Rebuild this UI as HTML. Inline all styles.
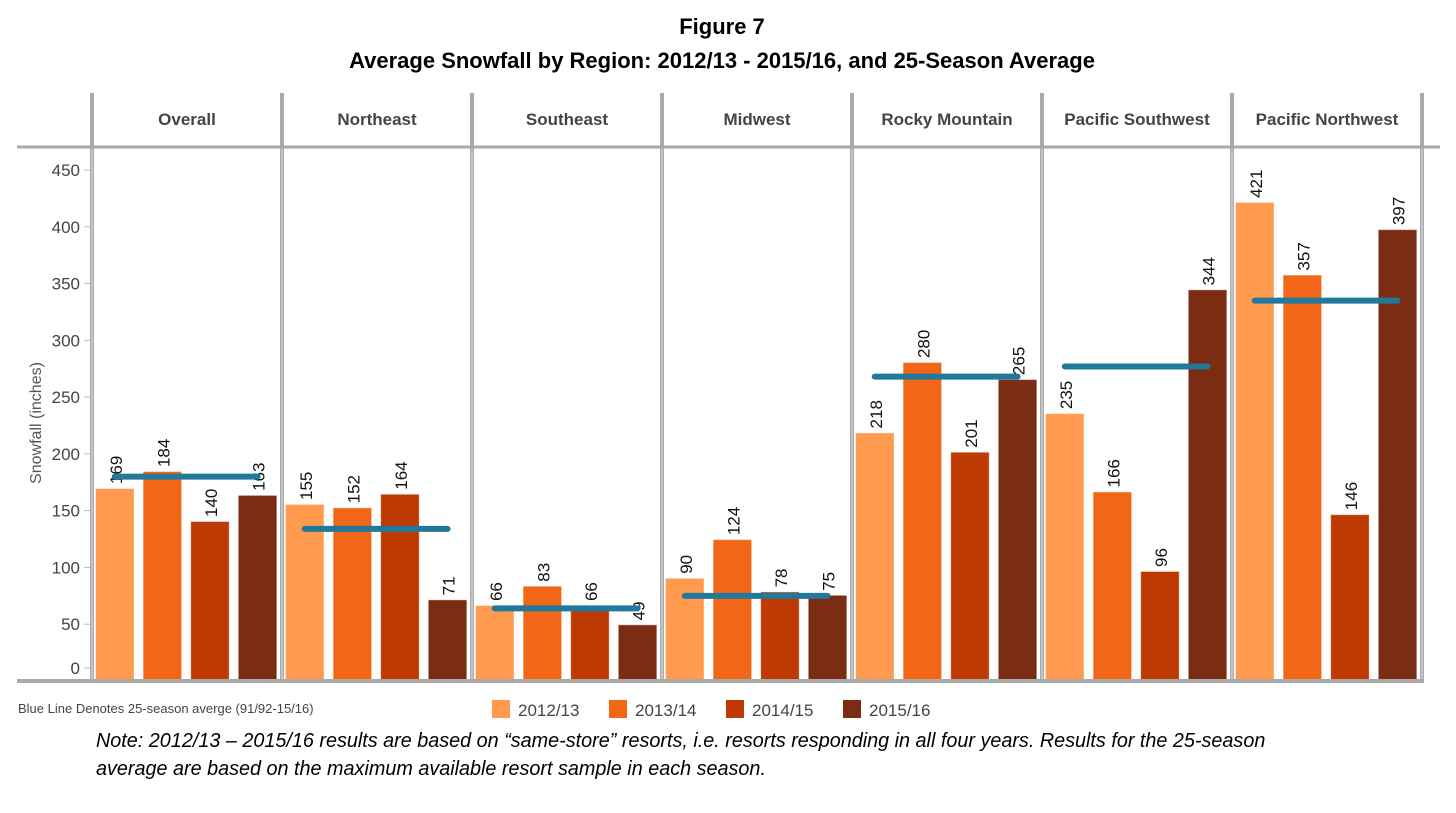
<!DOCTYPE html>
<html><head><meta charset="utf-8">
<style>
body{margin:0;background:#fff;width:1456px;height:813px;overflow:hidden;font-family:"Liberation Sans",sans-serif;}
svg{position:absolute;left:0;top:0}
</style></head>
<body>
<svg id="chart" width="1456" height="813">
<text x="722" y="34" text-anchor="middle" font-weight="bold" font-size="22">Figure 7</text>
<text x="722" y="68" text-anchor="middle" font-weight="bold" font-size="22">Average Snowfall by Region:  2012/13 - 2015/16, and 25-Season Average</text>
<text transform="translate(41,423) rotate(-90)" text-anchor="middle" font-size="16" fill="#555">Snowfall (inches)</text>
<text x="18" y="713" font-size="13" fill="#444">Blue Line Denotes 25-season averge (91/92-15/16)</text>
<g font-style="italic" font-size="20">
<text x="96" y="747" transform="translate(96,0) scale(0.99,1) translate(-96,0)">Note:  2012/13 – 2015/16 results are based on “same-store” resorts, i.e. resorts responding in all four years.  Results for the 25-season</text>
<text x="96" y="775" transform="translate(96,0) scale(0.99,1) translate(-96,0)">average are based on the maximum available resort sample in each season.</text>
</g>
<g id="g"></g>
</svg>
<script>
const regions=["Overall","Northeast","Southeast","Midwest","Rocky Mountain","Pacific Southwest","Pacific Northwest"];
const seasons=["2012/13","2013/14","2014/15","2015/16"];
const s2012=[169,155,66,90,218,235,421];
const s2013=[184,152,83,124,280,166,357];
const s2014=[140,164,66,78,201,96,146];
const s2015=[163,71,49,75,265,344,397];
const avg25=[180,134,64,75,268,277,335];
const yTicks=[0,50,100,150,200,250,300,350,400,450];
const colors=["#FF9A4F","#F26617","#BD3A03","#7B2D13"];
const series=[s2012,s2013,s2014,s2015];

const NS="http://www.w3.org/2000/svg";
const g=document.getElementById('g');
function el(t,a,p){const e=document.createElementNS(NS,t);for(const k in a)e.setAttribute(k,a[k]);(p||g).appendChild(e);return e;}
const x0=92,pw=190,yBase=681,k=1.1356;
function y(v){return yBase-v*k;}
function bx(r,i){return x0+r*pw+4+i*47.6;}
yTicks.forEach(t=>{
 const ty=t===0?668:y(t);
 const tx=el('text',{x:80,y:ty+6,'text-anchor':'end','font-size':17,fill:'#444'});
 tx.textContent=t;
 
 
 el('line',{x1:84,x2:90,y1:ty,y2:ty,stroke:'#bbb'});
});
regions.forEach((r,ri)=>{
 const h=el('text',{x:x0+ri*pw+pw/2,y:125,'text-anchor':'middle','font-size':17,'font-weight':'bold',fill:'#444'});
 h.textContent=r;
 
 
 series.forEach((s,si)=>{
  const v=s[ri];const x=bx(ri,si);
  const b=el('rect',{x:x,y:y(v),width:37.5,height:v*k,fill:colors[si],stroke:colors[si],'stroke-opacity':0.6});
  
  
  const lx=x+18.75+7,ly=y(v)-5;
  const t=el('text',{transform:`translate(${lx},${ly}) rotate(-90)`,'font-size':17,fill:'#111'});
  t.textContent=v;
  
  
 });
 const a=avg25[ri];
 const ln=el('line',{x1:bx(ri,0)+18.75,x2:bx(ri,3)+18.75,y1:y(a),y2:y(a),stroke:'#22789A','stroke-width':6,'stroke-linecap':'round'});
 
 
});
el('line',{x1:17,x2:1440,y1:147,y2:147,stroke:'#aaa','stroke-width':3});
el('line',{x1:17,x2:1424,y1:681,y2:681,stroke:'#aaa','stroke-width':4});
for(let i=0;i<=7;i++){const x=x0+i*pw;el('line',{x1:x,x2:x,y1:93,y2:682,stroke:'#aaa','stroke-width':4});el('line',{x1:x,x2:x,y1:149,y2:679,stroke:'#ddd','stroke-width':1});}
seasons.forEach((s,i)=>{
 const lx=492+i*117;
 const r=el('rect',{x:lx,y:700,width:18,height:18,fill:colors[i]});
 
 
 const t=el('text',{x:lx+26,y:716,'font-size':17,fill:'#444'});
 t.textContent=s;
 
 
});
</script>
</body></html>
